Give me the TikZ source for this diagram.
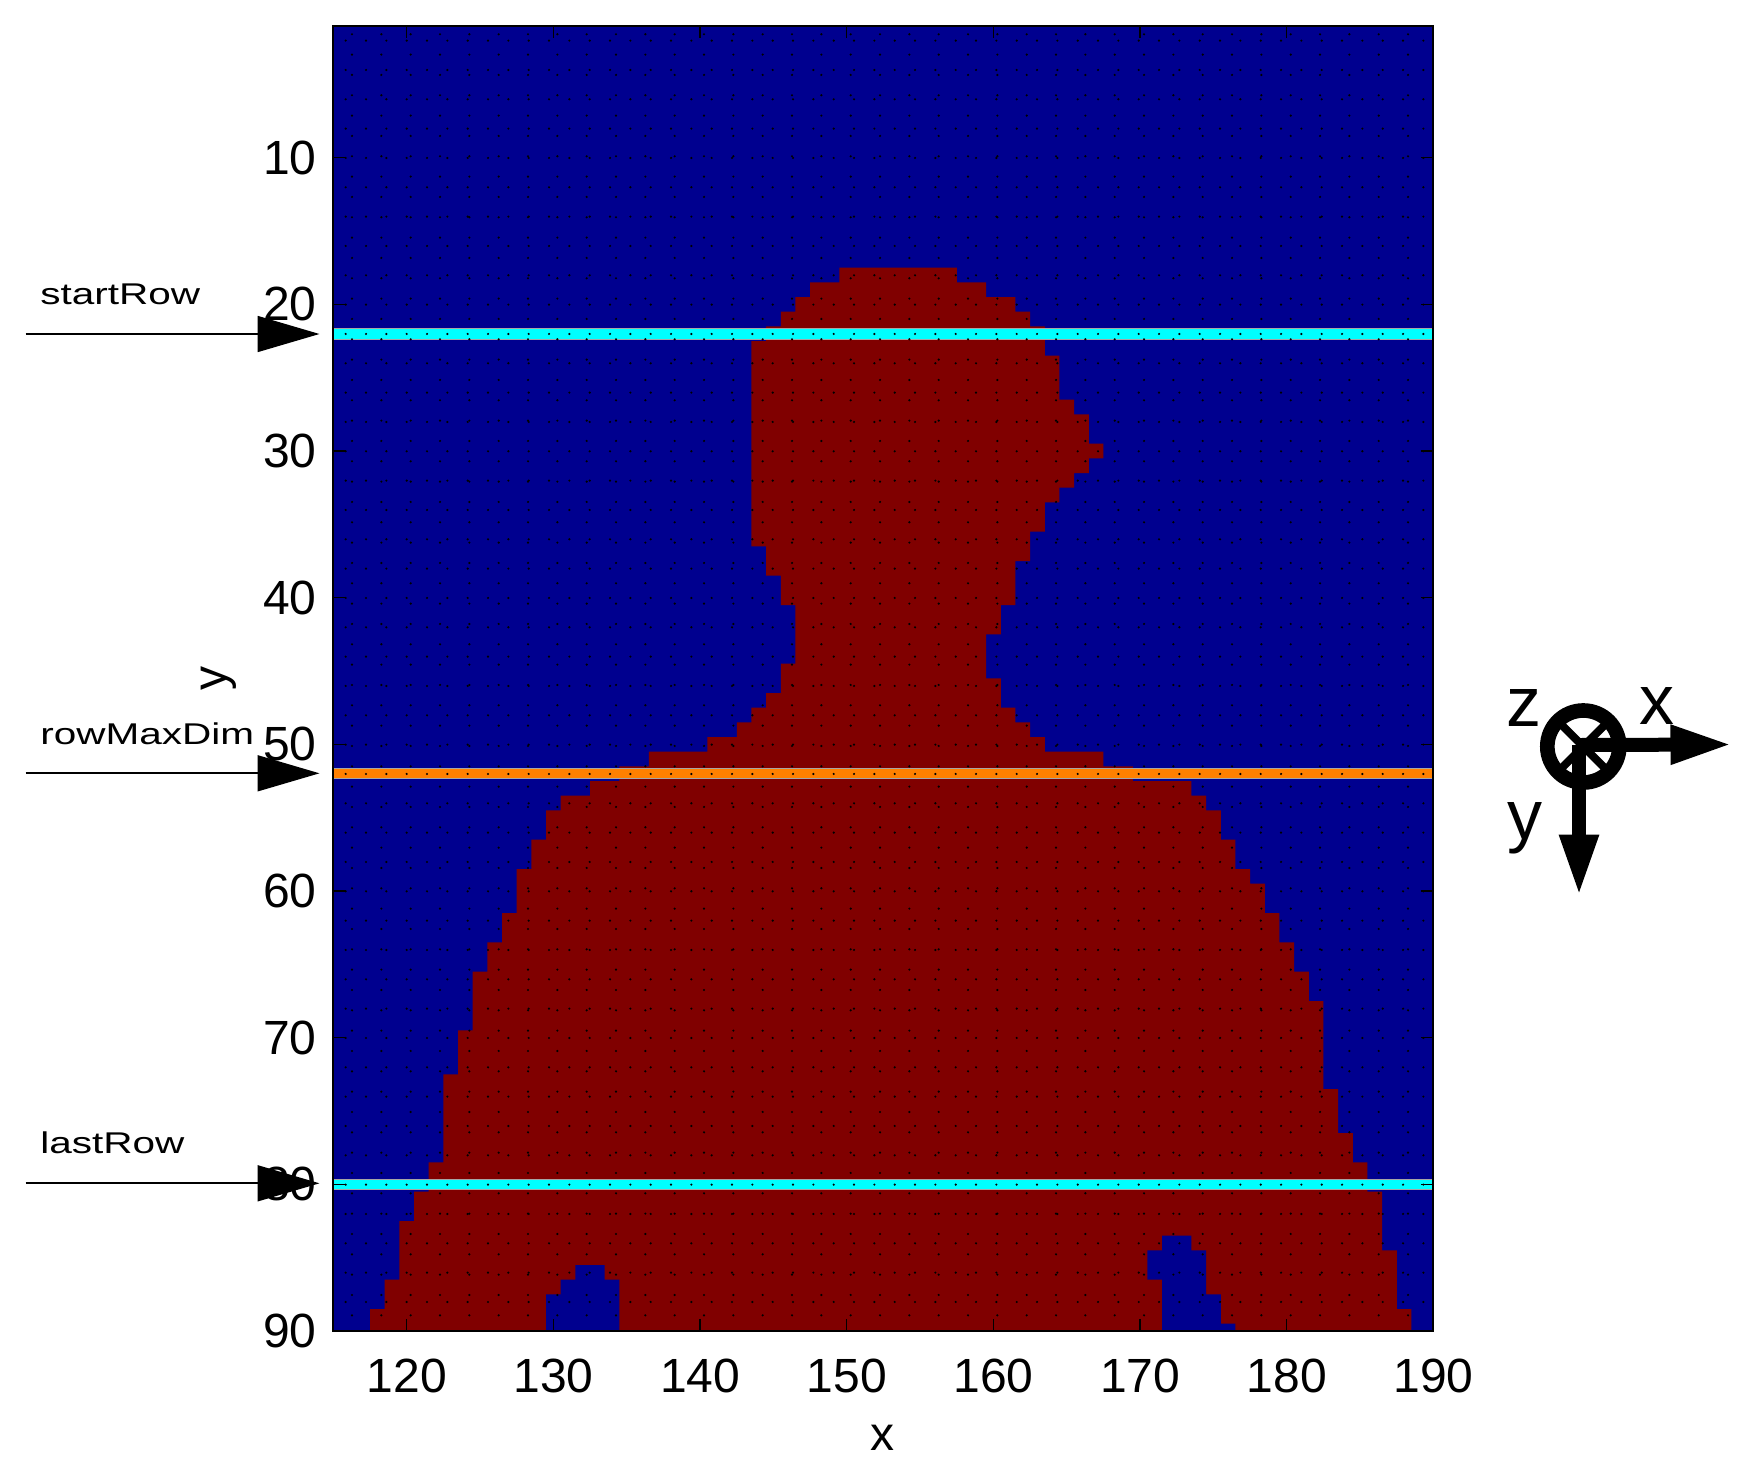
\documentclass[tikz,border=0pt]{standalone}
\usepackage{fontspec}
\setmainfont{Liberation Sans}
\newfontfamily\labfont[FakeStretch=1.35]{Liberation Sans}
\usetikzlibrary{arrows.meta,patterns.meta}

\definecolor{jetblue}{RGB}{0,0,143}
\definecolor{jetred}{RGB}{128,0,0}
\definecolor{lncyan}{RGB}{0,255,255}
\definecolor{lnorange}{RGB}{255,128,0}

\tikzdeclarepattern{name=dotsA, type=colored,
  bottom left={(-1pt,-1pt)}, top right={(1pt,1pt)},
  tile size={(14.667pt,10.167pt)},
  code={\fill[black] (0pt,0pt) circle (0.6pt);}}
\tikzdeclarepattern{name=dotsB, type=colored,
  bottom left={(-1pt,-1pt)}, top right={(1pt,1pt)},
  tile size={(10.167pt,14.667pt)},
  code={\fill[black] (0pt,0pt) circle (0.6pt);}}

\begin{document}
\begin{tikzpicture}[x=0.5pt,y=-0.5pt,
  tickmark/.style={line width=0.65pt},
  ticklab/.style={font=\fontsize{24}{28}\selectfont, inner sep=0pt},
  rowlab/.style={font=\labfont\fontsize{15}{18}\selectfont, inner sep=0pt, anchor=base west},
  rowarrow/.style={line width=0.85pt, -{Triangle[length=31pt,width=18pt]}},
  axarrow/.style={line width=7pt, -{Triangle[length=31pt,width=18pt]}},
  axlab/.style={font=\fontsize{35}{40}\selectfont, inner sep=0pt},
  markline/.style={draw=black!35, line width=0.4pt}]
\useasboundingbox (0,0) rectangle (1752,1478);

% ---------------- plot area (data coordinates) ----------------
\begin{scope}[shift={(-1353.3,11)}, x=7.3335pt, y=-7.3335pt]
  \begin{scope}
    \clip (115,1) rectangle (190,90);
    \fill[jetblue] (115,1) rectangle (190,90);
    % silhouette
    \fill[jetred] (149.5,17.5) -- (157.5,17.5)
      |- (159.5,18.5) |- (161.5,19.5) |- (162.5,20.5) |- (163.5,21.5)
      |- (164.5,23.5) |- (165.5,26.5) |- (166.5,27.5) |- (167.5,29.5)
      |- (166.5,30.5) |- (165.5,31.5) |- (164.5,32.5) |- (163.5,33.5)
      |- (162.5,35.5) |- (161.5,37.5) |- (160.5,40.5) |- (159.5,42.5)
      |- (160.5,45.5) |- (161.5,47.5) |- (162.5,48.5) |- (163.5,49.5)
      |- (167.5,50.5) |- (169.5,51.5) |- (173.5,52.5) |- (174.5,53.5)
      |- (175.5,54.5) |- (176.5,56.5) |- (177.5,58.5) |- (178.5,59.5)
      |- (179.5,61.5) |- (180.5,63.5) |- (181.5,65.5) |- (182.5,67.5)
      |- (183.5,73.5) |- (184.5,76.5) |- (185.5,78.5) |- (186.5,80.5)
      |- (187.5,84.5) |- (188.5,88.5) -- (188.5,90.5) -- (117.5,90.5)
      |- (118.5,88.5) |- (119.5,86.5) |- (120.5,82.5) |- (121.5,80.5)
      |- (122.5,78.5) |- (123.5,72.5) |- (124.5,69.5) |- (125.5,65.5)
      |- (126.5,63.5) |- (127.5,61.5) |- (128.5,58.5) |- (129.5,56.5)
      |- (130.5,54.5) |- (132.5,53.5) |- (134.5,52.5) |- (136.5,51.5)
      |- (140.5,50.5) |- (142.5,49.5) |- (143.5,48.5) |- (144.5,47.5)
      |- (145.5,46.5) |- (146.5,44.5) |- (145.5,40.5) |- (144.5,38.5)
      |- (143.5,36.5) |- (144.5,22.5) |- (145.5,21.5) |- (146.5,20.5)
      |- (147.5,19.5) |- (149.5,18.5) -- cycle;
    % holes between the legs
    \fill[jetblue] (131.5,85.5) -- (133.5,85.5) |- (134.5,86.5) -- (134.5,90.5)
      -- (129.5,90.5) |- (130.5,87.5) |- (131.5,86.5) -- cycle;
    \fill[jetblue] (171.5,83.5) -- (173.5,83.5) |- (174.5,84.5) |- (175.5,87.5)
      |- (176.5,89.5) -- (176.5,90.5) -- (171.5,90.5) -- (171.5,86.5)
      -- (170.5,86.5) -- (170.5,84.5) -- (171.5,84.5) -- cycle;
    % marked rows
    \filldraw[fill=lncyan, markline] (114,21.64) rectangle (191,22.36);
    \filldraw[fill=lnorange, markline] (114,51.66) rectangle (191,52.34);
    \filldraw[fill=lncyan, markline] (114,79.64) rectangle (191,80.36);
    % rendering dots
    \fill[pattern=dotsA] (115,1) rectangle (190,90);
    \fill[pattern=dotsB] (115,1) rectangle (190,90);
  \end{scope}
  % ticks
  \foreach \t in {120,130,...,190} {
    \draw[tickmark] (\t,90) -- ++(0,-0.85);
    \draw[tickmark] (\t,1) -- ++(0,0.85);
    \node[ticklab, anchor=north] (xt\t) at (\t,91.9) {\t};
  }
  \foreach \t in {10,20,...,90} {
    \draw[tickmark] (115,\t) -- ++(0.85,0);
    \draw[tickmark] (190,\t) -- ++(-0.85,0);
    \node[ticklab, anchor=east] (yt\t) at (113.88,\t) {\t};
  }
  % frame
  \draw[line width=1pt] (115,1) rectangle (190,90);
\end{scope}

% axis labels
\node[ticklab] (xlab) at (882.7,1438) {x};
\node[ticklab, rotate=90] (ylab) at (219,678) {y};

% row labels and arrows
\node[rowlab] (lab1) at (40,304) {startRow};
\node[rowlab] (lab2) at (40,744) {rowMaxDim};
\node[rowlab] (lab3) at (40,1153.3) {lastRow};
\coordinate (sr0) at (25.7,334);
\coordinate (sr1) at (319.5,334);
\coordinate (rm0) at (25.7,773.3);
\coordinate (rm1) at (319.5,773.3);
\coordinate (lr0) at (25.7,1183.3);
\coordinate (lr1) at (319.5,1183.3);
\draw[rowarrow] (sr0) -- (sr1);
\draw[rowarrow] (rm0) -- (rm1);
\draw[rowarrow] (lr0) -- (lr1);

% coordinate system symbol
\coordinate (cc) at (1583.3,746.5);
\coordinate (ox) at (1579,745);
\coordinate (xtip) at (1732.5,744.5);
\coordinate (ytip) at (1579,896.5);
\draw[line width=7.33pt] (cc) circle (36);
\draw[line width=4pt] (cc) +(-24,-24) -- +(24,24);
\draw[line width=4pt] (cc) +(24,-24) -- +(-24,24);
\draw[axarrow] (ox) -- (xtip);
\draw[axarrow] (ox) -- (ytip);
\node[axlab] (lz) at (1524,707.5) {z};
\node[axlab] (lx) at (1656.7,706) {x};
\node[axlab] (ly) at (1525,828) {y};
\end{tikzpicture}
\end{document}
